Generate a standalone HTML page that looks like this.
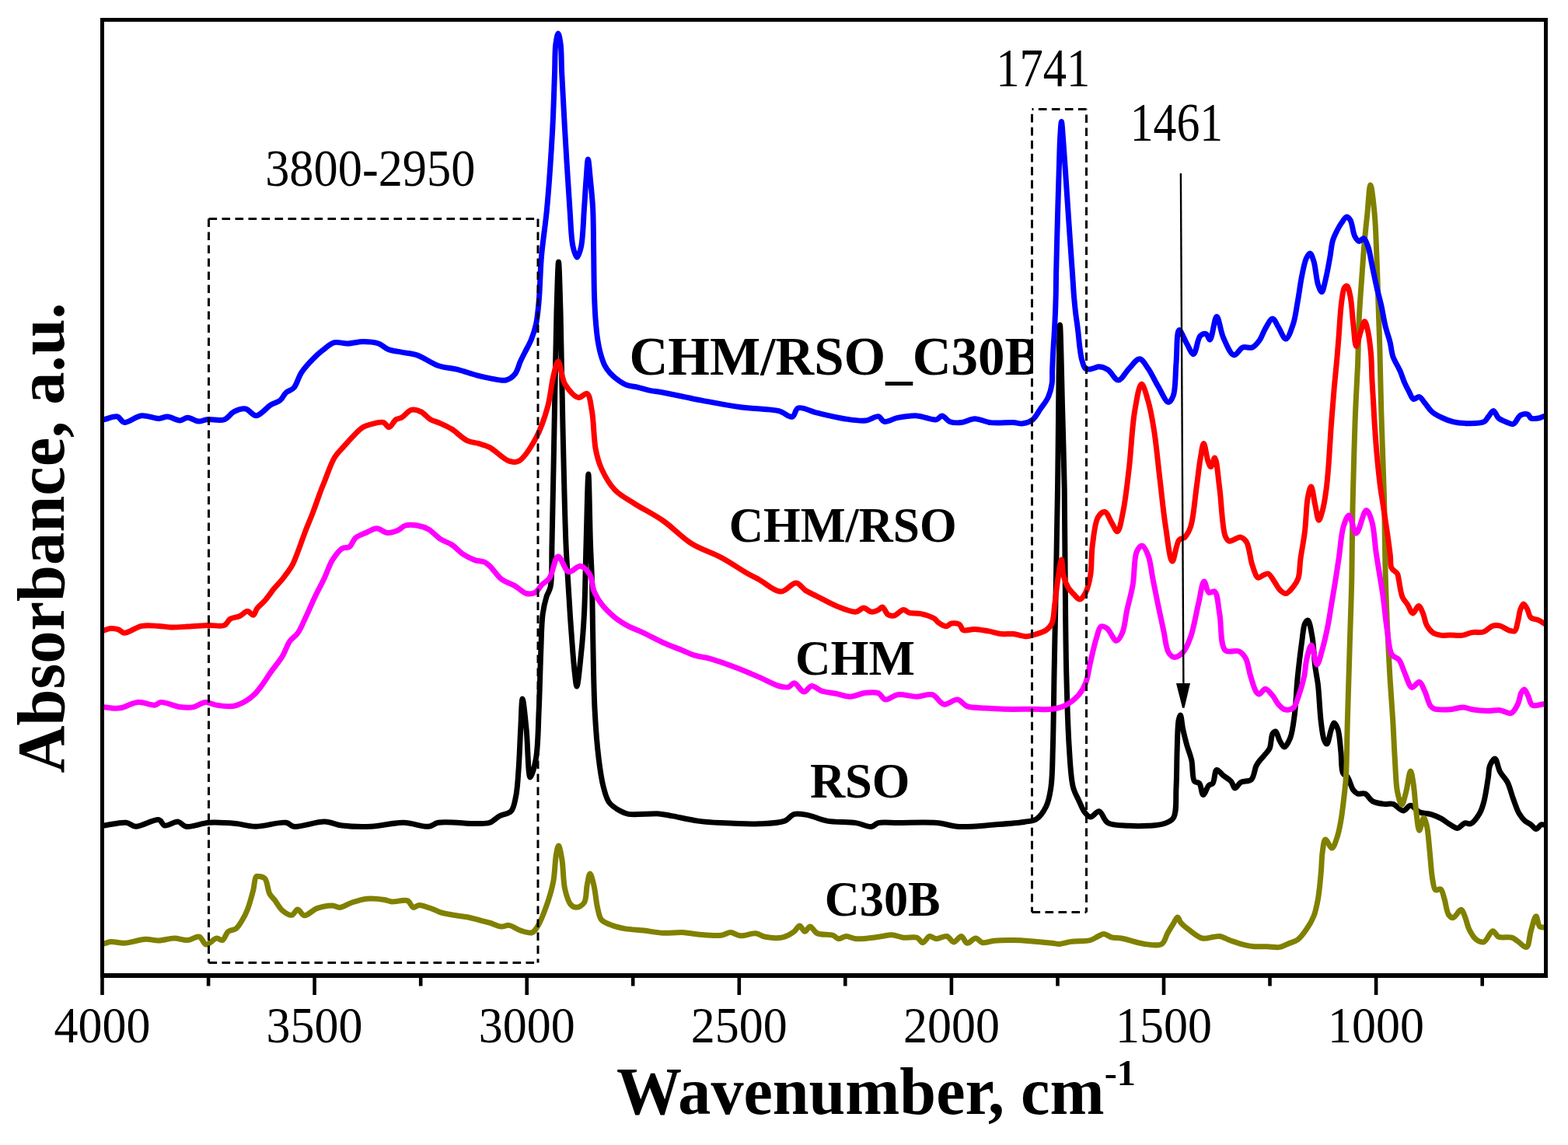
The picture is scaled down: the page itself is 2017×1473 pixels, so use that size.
<!DOCTYPE html>
<html><head><meta charset="utf-8"><title>FTIR spectra</title>
<style>html,body{margin:0;padding:0;background:#fff;}svg{display:block;}</style>
</head><body>
<svg width="2017" height="1473" viewBox="0 0 2017 1473">
<rect x="0" y="0" width="2017" height="1473" fill="#fff"/>
<g fill="none" stroke-width="7" stroke-linejoin="round" stroke-linecap="round">
<path stroke="#000000" d="M134.0,1062.0C143.4,1060.8 154.8,1057.4 162.2,1058.3C167.3,1058.9 169.5,1063.0 174.6,1063.3C182.3,1063.7 198.1,1053.0 204.4,1054.6C208.1,1055.5 208.5,1061.1 211.8,1062.0C216.1,1063.1 224.3,1056.4 229.2,1057.1C233.1,1057.7 234.7,1062.4 239.1,1063.3C246.2,1064.7 258.5,1059.0 268.8,1058.3C279.9,1057.6 292.9,1058.6 303.5,1059.6C312.5,1060.4 319.1,1063.2 328.3,1063.3C340.0,1063.4 359.3,1056.8 368.0,1058.3C372.6,1059.1 373.3,1062.6 377.9,1063.3C386.6,1064.7 406.3,1056.8 417.6,1057.1C426.1,1057.4 431.5,1060.9 439.9,1062.0C450.7,1063.4 464.3,1063.8 477.1,1063.3C490.7,1062.7 506.1,1058.1 519.2,1058.3C530.7,1058.5 543.3,1064.2 551.4,1063.3C556.6,1062.7 558.1,1059.3 563.8,1058.3C574.7,1056.3 601.3,1059.9 613.4,1059.6C620.4,1059.4 625.1,1060.0 630.0,1058.3C634.7,1056.7 637.9,1052.3 642.4,1049.9C647.0,1047.4 653.8,1047.5 657.3,1043.7C661.2,1039.6 661.9,1032.5 663.5,1025.1C665.7,1014.9 666.2,1001.2 667.2,987.9C668.3,972.6 668.8,953.9 669.7,938.3C670.5,924.4 670.9,899.0 672.1,899.0C673.3,899.0 675.6,923.7 677.1,938.3C679.0,956.5 679.1,999.7 682.1,1000.0C684.0,1000.2 687.7,985.7 689.5,975.5C692.3,959.7 692.2,935.1 693.2,913.5C694.3,889.9 694.8,861.5 695.7,839.2C696.5,821.0 696.4,802.8 698.2,789.6C699.4,780.6 701.2,773.6 703.1,767.3C704.6,762.5 706.9,760.7 708.1,754.9C710.6,743.2 709.4,722.8 710.0,700.0C711.0,662.3 712.0,600.0 713.0,550.0C714.0,500.0 714.8,439.3 716.0,400.0C716.8,374.5 717.7,337.0 718.5,337.0C719.3,337.0 720.2,374.5 721.0,400.0C722.2,439.3 722.8,500.0 724.0,550.0C725.2,600.0 726.5,664.6 728.0,700.0C728.8,719.4 729.6,729.1 730.5,745.0C731.6,762.9 732.7,782.6 734.1,802.0C735.6,822.2 737.4,849.3 739.1,864.0C740.1,872.2 740.9,883.0 742.0,883.0C743.6,883.0 746.1,854.3 747.7,839.2C749.4,823.2 750.5,808.6 751.5,789.6C752.8,764.1 753.1,729.9 754.0,700.0C754.9,670.0 756.0,610.0 756.9,610.0C757.8,610.0 758.6,675.1 759.5,700.0C760.1,717.6 760.9,728.4 761.4,745.0C762.0,765.6 762.1,789.2 762.6,814.4C763.2,844.5 763.6,884.3 765.1,913.5C766.3,936.6 767.9,957.5 770.1,975.5C771.8,989.5 773.5,1002.3 776.3,1012.7C778.4,1020.4 779.8,1027.3 783.7,1032.5C787.4,1037.4 794.0,1041.2 798.6,1043.7C802.1,1045.6 804.0,1046.6 808.5,1047.4C817.2,1048.9 837.6,1046.1 848.1,1046.9C855.1,1047.5 858.8,1048.7 865.5,1049.9C874.6,1051.6 887.1,1054.6 897.7,1056.1C907.8,1057.5 916.3,1058.0 927.5,1058.6C941.9,1059.4 962.3,1060.5 977.0,1059.8C988.9,1059.3 1001.3,1059.1 1009.3,1056.1C1014.7,1054.0 1017.0,1048.7 1021.7,1047.4C1026.8,1046.0 1032.8,1047.5 1039.0,1048.6C1046.6,1050.0 1054.6,1054.4 1063.8,1056.1C1074.8,1058.1 1090.6,1057.0 1101.0,1058.6C1108.7,1059.8 1115.5,1064.2 1120.8,1063.5C1124.6,1063.0 1126.0,1059.6 1130.0,1058.6C1136.1,1057.1 1145.1,1058.5 1154.8,1058.5C1168.5,1058.5 1190.0,1057.3 1204.4,1058.5C1215.6,1059.4 1223.2,1062.9 1234.1,1063.5C1247.4,1064.2 1264.3,1062.1 1278.7,1061.0C1292.3,1060.0 1308.4,1059.0 1318.4,1057.3C1324.6,1056.2 1329.0,1056.4 1333.3,1053.6C1338.3,1050.3 1342.6,1043.8 1345.7,1037.5C1349.1,1030.4 1350.5,1022.5 1351.9,1012.7C1353.9,999.1 1353.7,982.5 1354.3,963.1C1355.2,935.7 1355.5,897.0 1356.1,863.9C1356.7,830.9 1357.4,800.5 1358.1,764.8C1358.9,722.9 1359.7,678.5 1360.5,628.0C1361.5,565.5 1362.2,418.0 1363.5,418.0C1364.4,418.0 1365.7,492.8 1366.7,528.7C1367.6,562.7 1368.6,593.5 1369.2,627.9C1369.8,665.3 1369.8,705.8 1370.2,745.0C1370.6,784.5 1370.8,826.1 1371.7,863.9C1372.6,898.5 1373.5,935.7 1375.4,963.1C1376.7,982.5 1377.3,1000.6 1380.4,1012.7C1382.3,1020.1 1385.3,1024.5 1387.8,1030.0C1390.2,1035.2 1392.3,1041.2 1395.2,1044.9C1397.4,1047.7 1399.9,1051.0 1402.7,1051.1C1406.0,1051.3 1410.3,1043.1 1413.8,1043.7C1417.9,1044.4 1419.6,1055.3 1425.0,1058.5C1431.6,1062.4 1443.4,1061.7 1452.3,1062.3C1460.7,1062.9 1469.2,1062.8 1477.0,1062.3C1484.0,1061.9 1491.2,1061.8 1496.9,1059.8C1501.7,1058.1 1506.4,1056.9 1509.3,1052.4C1514.1,1044.9 1512.2,1026.7 1513.0,1012.7C1513.9,997.1 1513.6,978.4 1514.2,963.1C1514.7,949.8 1514.7,932.9 1516.2,925.9C1516.8,923.0 1517.7,919.9 1518.4,920.0C1519.6,920.1 1520.4,932.1 1521.7,938.3C1523.1,944.8 1524.8,951.5 1526.6,958.1C1528.5,964.8 1531.2,970.8 1532.8,978.0C1534.6,986.3 1533.3,1001.1 1536.5,1005.2C1538.1,1007.2 1541.0,1005.9 1542.7,1007.7C1545.3,1010.4 1545.6,1022.4 1547.7,1022.6C1549.7,1022.8 1552.5,1012.6 1555.1,1010.2C1556.7,1008.7 1558.7,1009.4 1560.1,1007.7C1562.6,1004.7 1562.3,991.2 1565.1,990.4C1567.3,989.7 1570.7,995.4 1573.7,997.8C1576.8,1000.3 1581.1,1002.3 1583.6,1005.2C1585.9,1007.8 1586.6,1013.6 1588.6,1013.9C1590.7,1014.2 1592.9,1008.3 1596.0,1006.5C1599.7,1004.4 1606.4,1005.8 1609.7,1002.8C1613.4,999.3 1613.8,989.7 1615.9,985.4C1617.3,982.6 1618.3,981.2 1620.0,979.0C1622.1,976.2 1625.3,973.1 1627.6,970.3C1629.7,967.7 1631.7,966.1 1633.2,962.8C1635.3,958.1 1634.9,947.3 1637.0,943.9C1638.1,942.2 1639.6,940.7 1640.8,941.0C1642.8,941.5 1644.3,949.8 1646.4,953.3C1648.1,956.2 1650.1,961.0 1652.1,960.9C1654.5,960.8 1657.6,954.5 1659.6,949.6C1662.6,942.2 1663.8,930.6 1665.3,919.3C1667.2,905.4 1667.5,887.9 1669.1,872.2C1670.7,856.5 1672.9,837.9 1674.7,825.0C1676.0,816.0 1676.4,806.7 1678.5,802.3C1679.6,800.1 1681.1,797.7 1682.3,798.0C1684.6,798.5 1686.5,811.1 1688.0,819.3C1689.9,830.0 1690.3,845.8 1691.7,857.0C1692.8,866.1 1694.4,872.1 1695.5,881.6C1697.0,894.8 1697.7,916.0 1699.3,928.8C1700.4,937.7 1701.2,946.5 1703.1,951.4C1704.1,954.1 1705.6,957.3 1706.8,957.1C1708.8,956.8 1710.6,943.2 1712.5,938.2C1713.8,934.8 1714.9,930.1 1716.3,930.0C1717.7,929.9 1719.7,934.5 1721.0,938.2C1723.2,944.7 1723.7,957.0 1724.8,966.5C1725.9,975.9 1724.8,989.7 1727.6,994.9C1729.0,997.5 1731.5,997.1 1733.3,999.4C1736.1,1003.1 1738.0,1012.7 1740.8,1016.4C1742.6,1018.7 1744.2,1020.3 1746.5,1021.1C1749.1,1022.0 1753.0,1019.9 1755.9,1021.1C1759.4,1022.5 1761.5,1028.4 1765.4,1030.6C1769.6,1033.0 1775.8,1033.8 1780.5,1034.4C1784.5,1034.9 1788.0,1033.3 1791.8,1034.4C1796.2,1035.7 1801.0,1043.0 1805.0,1042.9C1808.4,1042.8 1811.2,1036.2 1814.5,1036.3C1818.1,1036.4 1821.5,1042.8 1825.8,1044.7C1830.3,1046.7 1836.1,1046.1 1840.9,1047.6C1845.5,1049.0 1850.0,1051.0 1854.1,1053.2C1858.1,1055.4 1861.7,1058.7 1865.4,1060.8C1868.6,1062.7 1871.8,1065.7 1874.9,1065.5C1878.1,1065.3 1881.2,1059.7 1884.3,1058.9C1886.8,1058.3 1889.3,1060.8 1891.8,1059.8C1895.6,1058.3 1900.3,1051.4 1903.2,1046.6C1905.9,1042.0 1907.2,1037.6 1908.8,1031.5C1911.1,1022.9 1913.2,1007.9 1914.5,999.4C1915.4,993.8 1914.8,989.4 1916.4,985.4C1917.8,981.8 1921.0,975.8 1923.0,976.0C1925.5,976.3 1926.8,987.8 1929.6,992.9C1932.2,997.7 1936.3,1000.9 1939.0,1006.0C1942.2,1012.2 1944.0,1020.8 1946.6,1027.8C1949.0,1034.3 1951.2,1041.6 1954.1,1046.6C1956.4,1050.5 1958.9,1053.7 1961.7,1056.1C1964.1,1058.2 1966.9,1059.1 1969.3,1060.8C1971.7,1062.5 1973.7,1066.5 1975.9,1066.5C1978.1,1066.5 1980.5,1061.5 1982.5,1060.8C1983.8,1060.4 1984.8,1060.9 1986.0,1061.0"/>
<path stroke="#808000" d="M134.0,1214.0C136.8,1213.2 139.1,1211.8 142.4,1211.5C147.1,1211.1 153.3,1213.5 159.7,1213.3C167.8,1213.0 178.9,1208.6 187.0,1208.3C193.4,1208.0 198.4,1210.2 204.4,1210.0C210.8,1209.8 217.8,1207.0 224.2,1207.0C230.2,1207.0 236.0,1209.9 241.5,1209.5C246.7,1209.1 252.4,1203.9 256.4,1205.1C260.1,1206.2 261.6,1214.4 265.1,1215.0C268.9,1215.6 274.8,1207.4 278.7,1207.0C281.5,1206.7 284.0,1210.3 286.2,1209.5C289.1,1208.5 290.5,1200.9 293.6,1198.4C296.4,1196.2 300.7,1196.8 303.5,1194.7C306.6,1192.4 308.7,1188.5 311.0,1184.7C313.7,1180.4 316.2,1175.6 318.4,1169.9C321.2,1162.8 323.8,1152.7 325.8,1145.1C327.4,1138.8 327.3,1129.6 329.6,1127.7C330.6,1126.8 331.9,1127.3 333.3,1127.5C335.4,1127.8 338.7,1128.1 340.7,1130.2C344.0,1133.6 344.3,1145.2 346.9,1150.0C348.7,1153.3 350.8,1154.6 353.1,1157.5C356.1,1161.3 359.0,1167.7 363.0,1171.1C366.6,1174.1 372.0,1177.9 375.4,1177.3C378.4,1176.8 380.2,1170.0 382.8,1169.9C385.6,1169.8 388.0,1177.4 391.5,1177.8C395.9,1178.3 401.8,1170.7 407.6,1168.6C413.7,1166.4 422.0,1164.7 427.5,1164.9C431.4,1165.0 433.8,1167.7 437.4,1167.4C441.9,1167.1 446.9,1163.0 452.3,1161.2C458.4,1159.2 465.3,1156.8 472.1,1156.2C479.3,1155.5 488.5,1156.6 494.4,1157.5C498.4,1158.1 500.4,1159.6 504.3,1160.0C509.8,1160.5 519.5,1156.7 524.2,1158.7C527.8,1160.2 528.9,1166.7 531.6,1167.4C533.9,1168.0 536.0,1164.6 539.0,1164.4C543.5,1164.2 551.5,1167.6 556.4,1169.4C560.2,1170.7 562.5,1172.4 566.3,1173.6C571.2,1175.1 577.8,1176.3 583.6,1177.3C589.4,1178.3 595.5,1178.7 601.0,1179.8C606.2,1180.8 611.0,1182.3 615.9,1183.5C620.7,1184.7 625.3,1185.8 630.0,1187.2C634.9,1188.7 640.4,1191.8 644.9,1192.1C648.5,1192.4 651.2,1189.9 654.8,1190.4C659.3,1191.0 664.6,1195.6 669.7,1197.1C674.5,1198.6 680.7,1201.0 684.5,1199.6C687.8,1198.4 689.5,1194.9 692.0,1190.9C696.2,1184.1 701.0,1170.9 704.4,1161.1C707.5,1151.9 710.0,1143.6 711.8,1133.9C713.8,1123.1 713.9,1107.5 715.5,1099.2C716.4,1094.4 717.4,1088.0 718.5,1088.0C719.9,1088.0 721.8,1099.3 723.0,1106.6C724.7,1116.8 724.3,1133.5 726.7,1143.8C728.5,1151.6 730.7,1159.8 734.1,1163.6C736.2,1166.0 739.0,1167.4 741.6,1167.3C744.7,1167.1 749.2,1164.5 751.5,1161.1C754.7,1156.3 753.8,1145.4 755.2,1138.8C756.3,1133.3 757.5,1124.1 758.9,1124.0C760.4,1123.9 762.4,1132.9 763.9,1138.8C765.9,1146.9 766.8,1160.5 768.8,1168.6C770.3,1174.5 770.6,1179.7 773.8,1183.4C777.1,1187.2 783.6,1189.0 788.7,1190.9C793.5,1192.7 797.9,1193.6 803.5,1194.6C810.7,1195.9 820.0,1196.2 828.3,1197.1C836.6,1198.1 844.8,1199.9 853.1,1200.3C861.4,1200.7 870.1,1199.2 877.9,1199.6C884.9,1199.9 890.4,1201.4 897.7,1202.0C906.6,1202.7 919.8,1204.3 927.5,1203.3C932.6,1202.7 935.8,1199.5 939.9,1199.6C944.0,1199.7 947.6,1203.4 952.3,1203.8C958.1,1204.3 966.3,1200.2 972.1,1200.8C976.8,1201.3 979.7,1204.4 984.5,1205.3C990.8,1206.5 1000.3,1207.3 1006.8,1205.8C1012.4,1204.5 1017.9,1201.2 1021.7,1198.3C1024.7,1196.1 1026.3,1191.0 1028.6,1191.0C1030.9,1191.0 1033.0,1198.2 1035.3,1198.3C1037.5,1198.4 1039.6,1192.0 1042.0,1192.0C1044.9,1192.0 1047.3,1198.9 1051.4,1200.8C1056.5,1203.2 1066.4,1201.6 1071.3,1203.3C1074.5,1204.4 1076.0,1207.4 1078.7,1207.7C1081.7,1208.0 1085.1,1204.6 1088.6,1204.5C1092.5,1204.4 1096.0,1207.3 1101.0,1207.7C1108.6,1208.3 1121.6,1206.3 1130.0,1205.3C1136.5,1204.6 1141.9,1202.6 1147.4,1202.8C1152.6,1203.0 1157.0,1205.6 1162.2,1206.2C1167.7,1206.8 1175.2,1204.6 1179.6,1206.2C1182.9,1207.4 1184.5,1212.7 1187.0,1212.7C1189.8,1212.7 1192.6,1205.1 1195.7,1204.5C1198.4,1203.9 1201.1,1207.5 1204.4,1207.7C1208.4,1207.9 1214.2,1203.6 1218.0,1204.5C1221.5,1205.3 1223.7,1211.8 1226.7,1211.9C1229.9,1212.0 1233.7,1204.2 1236.6,1204.5C1239.4,1204.8 1241.0,1212.7 1244.0,1213.2C1247.2,1213.8 1251.7,1206.9 1255.2,1207.0C1258.3,1207.1 1260.5,1212.0 1263.9,1212.7C1268.0,1213.6 1273.1,1210.7 1278.7,1210.2C1285.9,1209.5 1295.5,1209.4 1303.5,1209.5C1311.1,1209.6 1318.0,1210.1 1325.8,1210.7C1334.4,1211.3 1346.3,1212.5 1353.1,1213.2C1357.2,1213.6 1359.4,1214.5 1363.0,1214.4C1367.5,1214.2 1372.3,1212.2 1377.9,1211.4C1385.1,1210.4 1396.4,1211.3 1402.7,1209.5C1406.9,1208.3 1409.5,1205.9 1412.6,1204.5C1415.2,1203.3 1417.4,1201.5 1420.0,1201.5C1423.1,1201.5 1426.4,1204.9 1430.0,1205.8C1433.8,1206.8 1437.3,1206.1 1442.3,1207.0C1450.1,1208.3 1462.8,1213.3 1472.1,1214.4C1480.0,1215.4 1489.4,1217.4 1494.4,1214.4C1498.6,1211.9 1499.3,1205.2 1501.8,1200.8C1504.2,1196.5 1507.0,1192.1 1509.3,1188.4C1511.2,1185.3 1513.0,1180.0 1514.7,1180.0C1516.3,1180.0 1517.2,1184.8 1519.2,1187.2C1521.7,1190.1 1525.2,1192.9 1529.1,1195.8C1534.0,1199.5 1540.7,1205.6 1546.5,1207.0C1551.4,1208.1 1557.2,1205.8 1561.3,1205.3C1564.2,1205.0 1565.9,1204.1 1568.8,1204.5C1573.0,1205.0 1578.4,1208.4 1583.6,1210.2C1589.1,1212.1 1595.6,1214.4 1601.0,1215.7C1605.4,1216.8 1609.0,1217.3 1613.4,1217.7C1618.5,1218.1 1624.5,1217.6 1630.0,1217.7C1635.5,1217.8 1641.5,1219.3 1646.4,1218.4C1650.6,1217.7 1654.0,1215.3 1657.8,1213.7C1661.6,1212.1 1665.6,1211.5 1669.1,1209.0C1673.3,1206.0 1677.0,1200.7 1680.4,1195.8C1684.0,1190.7 1687.4,1185.1 1689.9,1178.8C1692.6,1171.9 1694.0,1164.5 1695.5,1156.1C1697.3,1146.0 1698.3,1132.8 1699.3,1122.2C1700.2,1112.8 1700.0,1103.3 1701.2,1095.7C1702.1,1089.7 1702.8,1080.5 1705.0,1080.0C1707.0,1079.6 1710.9,1091.3 1713.4,1091.0C1716.0,1090.7 1718.3,1082.1 1720.1,1076.8C1722.2,1070.7 1723.5,1063.6 1724.8,1056.1C1726.4,1047.4 1727.5,1037.3 1728.6,1027.8C1729.7,1018.4 1730.7,1011.0 1731.4,999.4C1732.5,981.1 1732.6,954.0 1733.3,928.8C1734.1,899.6 1735.2,865.9 1736.1,834.4C1737.0,802.9 1738.3,770.3 1738.9,740.0C1739.5,711.9 1739.4,685.4 1739.9,658.8C1740.4,633.2 1741.1,606.7 1741.8,583.3C1742.4,563.0 1742.9,545.5 1743.7,526.6C1744.5,507.7 1745.7,489.3 1746.5,470.0C1747.3,449.7 1747.4,428.0 1748.4,407.7C1749.3,388.3 1751.0,368.0 1752.2,351.0C1753.2,337.2 1753.9,325.9 1755.0,313.3C1756.1,300.7 1757.5,288.1 1758.8,275.5C1760.1,263.0 1761.3,238.0 1762.9,238.0C1764.5,238.0 1766.9,261.7 1768.2,275.5C1769.8,292.4 1770.2,313.3 1771.0,332.2C1771.8,351.1 1772.3,369.9 1772.9,388.8C1773.5,407.7 1774.2,424.8 1774.8,445.4C1775.5,470.0 1776.0,502.0 1776.7,526.6C1777.3,547.2 1778.0,564.4 1778.6,583.3C1779.2,602.2 1780.0,621.0 1780.5,639.9C1781.0,658.8 1781.1,678.1 1781.4,696.5C1781.7,714.1 1781.9,731.1 1782.4,748.0C1782.9,764.4 1783.4,778.6 1784.2,796.6C1785.2,819.0 1786.6,848.8 1788.0,872.2C1789.2,892.4 1790.7,910.4 1791.8,928.8C1792.8,946.3 1793.5,964.2 1794.5,980.0C1795.4,993.7 1795.5,1008.2 1797.5,1018.3C1798.9,1025.2 1801.2,1035.3 1803.1,1035.3C1805.0,1035.3 1807.1,1024.6 1808.8,1018.3C1810.9,1010.5 1812.8,992.0 1814.5,992.0C1815.9,992.0 1817.1,1002.1 1818.2,1008.9C1819.8,1018.9 1820.5,1035.8 1822.0,1046.6C1823.1,1054.8 1824.1,1068.2 1825.8,1068.3C1827.3,1068.4 1829.7,1052.3 1831.4,1052.3C1832.7,1052.3 1834.1,1057.5 1835.2,1061.7C1837.1,1069.1 1837.8,1082.7 1839.0,1093.8C1840.3,1105.9 1841.0,1122.3 1842.8,1131.6C1843.9,1137.2 1844.1,1143.2 1846.5,1144.8C1848.1,1145.9 1851.3,1142.9 1853.1,1143.9C1855.6,1145.3 1856.4,1151.4 1857.9,1156.1C1859.9,1162.1 1860.7,1173.0 1863.5,1176.9C1865.1,1179.1 1867.1,1180.9 1869.2,1180.7C1872.3,1180.4 1877.0,1169.9 1879.6,1170.3C1881.7,1170.6 1882.8,1175.4 1884.3,1178.8C1886.3,1183.4 1887.4,1190.7 1890.0,1195.8C1892.5,1200.7 1895.8,1206.4 1899.4,1209.0C1902.2,1211.0 1905.8,1212.7 1908.8,1211.8C1912.9,1210.5 1916.7,1197.9 1920.2,1197.7C1922.9,1197.6 1924.3,1203.7 1927.7,1205.2C1932.0,1207.1 1940.3,1204.8 1944.7,1206.2C1947.9,1207.2 1949.5,1209.1 1952.3,1210.9C1955.7,1213.1 1960.8,1219.4 1963.6,1218.4C1967.1,1217.1 1967.2,1204.4 1969.3,1197.7C1971.3,1191.2 1973.9,1178.8 1975.9,1178.8C1977.6,1178.8 1978.2,1190.0 1980.6,1192.0C1982.1,1193.3 1984.2,1192.7 1986.0,1193.0"/>
<path stroke="#ff00ff" d="M134.0,909.6C136.8,910.0 139.3,910.6 142.4,910.8C146.1,911.1 150.1,911.6 154.8,910.8C161.2,909.8 169.6,904.0 177.1,903.4C184.5,902.8 194.1,907.9 199.4,907.1C202.6,906.6 203.5,903.8 206.8,903.4C212.6,902.8 224.0,908.7 231.6,909.6C237.9,910.4 243.5,910.7 249.0,909.6C254.3,908.5 258.9,903.8 263.9,903.4C268.8,903.0 273.2,906.3 278.7,907.1C285.3,908.1 294.4,909.4 301.0,908.3C306.6,907.3 311.3,904.8 315.9,902.1C320.4,899.4 324.6,895.9 328.3,892.2C332.0,888.5 335.0,884.2 338.2,879.8C341.6,875.2 344.4,870.3 348.1,865.0C352.5,858.7 358.8,851.5 363.0,844.6C367.0,838.1 369.1,830.0 372.9,824.7C375.9,820.5 379.8,819.0 382.8,814.8C386.6,809.6 389.4,802.2 392.8,795.0C396.8,786.7 401.0,776.5 405.2,767.7C409.3,759.2 413.8,751.0 417.6,742.9C421.2,735.3 423.5,727.0 427.5,720.6C431.1,714.9 435.5,708.4 439.9,705.7C443.1,703.7 447.0,705.2 449.8,703.3C453.0,701.1 453.8,695.1 457.2,692.1C461.0,688.7 467.3,686.8 472.1,684.7C476.4,682.8 480.3,679.7 484.5,679.7C488.9,679.7 493.5,685.0 498.1,685.4C502.6,685.8 507.7,683.9 511.8,682.2C515.5,680.7 517.9,677.1 521.7,676.0C526.0,674.8 531.6,675.2 536.5,676.0C541.5,676.8 546.7,678.4 551.4,681.0C556.7,683.9 561.1,690.0 566.3,693.4C571.1,696.5 576.4,697.7 581.2,700.8C586.3,704.2 590.9,709.8 596.0,713.2C600.8,716.3 606.1,718.9 610.9,720.6C615.1,722.0 619.9,721.6 623.3,723.1C626.0,724.3 627.5,725.8 630.0,728.1C634.2,731.9 639.3,740.7 644.9,745.0C650.1,749.0 656.7,750.4 662.2,753.6C667.5,756.6 672.3,762.3 677.1,763.5C680.9,764.4 685.1,764.0 688.3,762.3C691.8,760.5 693.8,755.5 696.9,752.4C700.0,749.3 703.8,747.9 706.8,743.7C711.3,737.4 713.6,716.5 718.0,716.0C722.0,715.6 726.3,734.3 731.6,735.7C736.0,736.8 742.0,727.7 746.5,728.3C751.1,728.9 756.0,734.6 758.9,739.4C762.1,744.8 761.4,753.4 763.9,759.8C766.4,766.0 769.6,771.7 773.8,777.2C778.5,783.3 785.1,789.6 791.1,794.5C796.7,799.0 802.4,802.4 808.5,805.7C814.8,809.1 821.4,811.1 828.3,814.4C836.1,818.1 844.8,823.1 853.1,826.8C861.3,830.5 870.7,833.8 877.9,836.7C883.5,839.0 887.2,841.2 892.8,842.9C899.4,845.0 907.1,845.5 915.1,847.8C924.9,850.6 936.8,855.0 947.3,859.0C957.5,862.9 967.6,867.3 977.0,871.4C985.7,875.1 994.8,880.6 1001.8,882.5C1006.5,883.8 1010.7,884.7 1014.2,883.8C1017.2,883.1 1019.0,878.6 1021.7,878.8C1025.4,879.1 1030.1,889.8 1034.1,890.0C1037.5,890.1 1040.4,882.8 1044.0,882.5C1047.8,882.1 1051.7,887.1 1056.4,888.7C1062.1,890.6 1069.8,891.2 1076.2,892.5C1082.2,893.7 1087.6,896.3 1093.6,896.2C1100.0,896.1 1107.0,891.9 1113.4,891.2C1119.1,890.6 1125.6,889.9 1130.0,891.7C1133.7,893.2 1135.1,899.2 1138.7,899.9C1143.0,900.8 1148.7,894.5 1154.8,893.7C1162.1,892.7 1171.8,896.3 1179.6,896.2C1186.6,896.1 1193.6,892.0 1199.4,893.7C1205.1,895.4 1208.8,905.1 1214.3,906.1C1219.6,907.0 1226.5,899.2 1231.6,899.9C1236.3,900.5 1238.9,906.7 1244.0,908.6C1250.6,911.0 1260.7,910.4 1268.8,911.0C1276.4,911.6 1282.7,912.1 1291.1,912.3C1301.9,912.6 1317.2,912.3 1328.3,912.3C1337.4,912.3 1345.6,913.4 1353.1,912.3C1359.5,911.4 1365.0,910.1 1370.5,907.3C1376.6,904.2 1383.4,898.8 1387.8,893.7C1391.7,889.2 1394.2,884.7 1396.5,878.8C1399.5,871.3 1400.5,860.9 1402.7,851.6C1405.0,841.9 1407.5,830.1 1410.1,821.8C1412.1,815.6 1413.3,807.5 1416.3,806.0C1418.4,805.0 1421.3,806.5 1423.8,808.2C1427.9,811.0 1432.5,824.3 1436.1,824.3C1438.9,824.3 1441.6,818.9 1443.6,814.4C1446.8,807.4 1447.6,794.7 1449.8,784.6C1452.1,774.1 1455.2,763.9 1457.2,752.4C1459.5,739.2 1458.5,717.9 1462.2,709.7C1464.0,705.7 1466.9,701.8 1469.1,702.0C1471.8,702.2 1474.9,709.3 1477.0,714.7C1480.1,722.4 1481.0,734.7 1483.0,745.0C1485.1,755.6 1487.2,766.3 1489.5,777.2C1491.9,788.6 1494.5,801.0 1496.9,811.9C1499.0,821.6 1499.7,833.6 1503.1,839.2C1505.1,842.5 1507.7,845.1 1510.5,845.4C1513.8,845.7 1518.5,842.5 1521.7,839.2C1525.9,834.8 1528.7,827.4 1531.6,819.3C1535.7,808.1 1538.4,789.9 1541.5,777.2C1544.1,766.6 1546.2,748.2 1548.9,748.0C1550.8,747.8 1552.1,760.7 1555.1,762.3C1557.2,763.4 1560.6,759.7 1562.6,761.1C1566.5,763.8 1566.8,778.9 1568.8,789.6C1571.4,803.3 1569.3,830.4 1576.2,836.7C1580.4,840.5 1589.1,835.8 1593.6,837.9C1597.4,839.6 1599.9,842.6 1602.2,846.6C1605.4,852.0 1606.1,861.6 1608.4,868.9C1610.7,876.1 1613.1,886.4 1615.9,890.0C1617.2,891.7 1618.5,893.0 1620.0,892.9C1622.2,892.8 1624.9,886.3 1627.6,886.3C1630.6,886.3 1634.2,891.6 1637.0,894.8C1639.9,898.1 1641.8,903.0 1644.5,906.1C1646.9,908.8 1649.1,911.8 1652.1,912.7C1655.3,913.6 1660.4,913.2 1663.4,910.9C1667.0,908.1 1668.4,901.0 1670.6,895.0C1673.2,887.8 1675.8,878.5 1677.6,870.3C1679.3,862.4 1679.3,853.9 1681.1,846.8C1682.6,840.7 1685.0,829.9 1687.0,830.0C1689.4,830.1 1691.6,854.9 1694.1,855.0C1696.3,855.1 1698.9,842.4 1701.1,835.0C1703.7,826.0 1706.2,814.5 1708.2,804.5C1710.1,794.9 1711.3,785.7 1712.9,776.3C1714.5,766.9 1716.1,757.7 1717.6,748.1C1719.2,738.1 1720.7,728.4 1722.3,717.5C1724.2,705.1 1725.1,687.5 1728.1,677.6C1730.0,671.3 1732.8,662.9 1735.2,663.0C1738.2,663.1 1741.2,686.0 1744.6,686.0C1748.5,686.0 1753.7,656.6 1757.5,656.5C1760.1,656.4 1762.7,664.4 1764.6,670.5C1767.8,680.6 1768.2,698.0 1770.4,712.8C1772.8,729.2 1776.3,747.7 1778.7,764.5C1781.0,780.5 1782.3,797.5 1784.5,811.5C1786.3,822.8 1786.5,835.9 1790.4,842.1C1792.8,845.9 1797.2,845.8 1799.8,849.1C1803.0,853.2 1804.3,860.0 1806.9,865.6C1809.7,871.7 1812.6,883.5 1816.3,884.4C1819.1,885.1 1823.0,876.8 1825.7,877.3C1828.6,877.9 1830.5,884.6 1832.7,889.1C1835.4,894.6 1837.3,904.3 1840.0,908.0C1841.5,910.0 1842.4,910.9 1844.7,911.8C1849.0,913.4 1858.9,913.1 1865.4,912.7C1871.4,912.3 1877.3,909.7 1882.4,909.9C1886.6,910.1 1889.3,912.0 1893.7,912.7C1899.6,913.7 1908.1,914.5 1914.5,914.6C1919.9,914.7 1924.7,913.2 1929.6,913.7C1934.4,914.2 1940.0,918.8 1943.8,917.5C1947.5,916.2 1950.1,910.4 1952.3,906.1C1954.6,901.6 1955.1,894.3 1957.0,891.0C1958.1,889.1 1959.6,886.9 1960.8,887.0C1962.4,887.2 1963.9,891.9 1965.5,894.8C1967.4,898.4 1967.8,905.2 1971.1,907.1C1974.5,909.1 1981.0,906.2 1986.0,905.8"/>
<path stroke="#ff0000" d="M134.0,811.0C136.8,810.2 139.5,808.8 142.4,808.6C145.5,808.4 149.3,808.9 152.3,809.9C155.1,810.9 156.5,814.0 159.7,814.3C165.1,814.7 174.4,806.9 182.0,805.4C189.3,804.0 197.7,805.1 204.4,805.4C209.9,805.7 213.8,806.7 219.2,806.9C225.9,807.1 233.7,806.5 241.5,806.1C250.1,805.7 260.4,804.7 268.8,804.4C276.0,804.2 284.0,806.5 288.7,804.4C292.2,802.8 293.0,798.2 296.1,796.2C299.5,794.1 304.7,794.2 308.5,792.5C312.1,790.9 315.4,786.2 318.4,786.3C321.1,786.3 323.8,791.8 325.8,791.3C328.0,790.8 328.6,785.5 330.8,782.6C333.4,779.2 337.3,776.5 340.7,772.7C344.7,768.1 349.1,761.4 353.1,756.6C356.5,752.5 359.6,749.6 363.0,745.4C367.0,740.3 372.0,734.1 375.4,728.1C378.6,722.5 380.2,717.2 382.8,710.7C386.0,702.7 389.4,692.2 392.8,683.4C396.0,674.9 399.5,667.2 402.7,658.7C406.1,649.9 409.8,638.7 412.6,631.4C414.5,626.4 415.5,624.0 417.6,619.0C420.8,611.2 425.2,597.1 430.0,589.2C433.7,583.1 438.1,579.2 442.3,574.4C446.4,569.7 450.5,564.9 454.7,560.7C458.7,556.7 462.5,552.3 467.1,549.6C471.6,547.0 477.3,545.6 482.0,544.6C485.9,543.7 490.0,542.4 493.2,543.4C496.1,544.3 498.1,549.8 500.6,549.6C503.5,549.4 506.2,541.7 509.3,539.7C511.7,538.1 514.1,538.6 516.7,537.2C520.5,535.1 524.7,528.4 529.1,527.3C533.0,526.3 537.6,527.9 541.5,529.7C545.9,531.7 549.6,537.2 553.9,539.7C557.9,542.0 562.0,542.7 566.3,544.6C571.1,546.7 576.0,548.9 581.2,552.1C587.5,556.0 594.6,563.9 601.0,566.9C606.1,569.3 611.0,569.1 615.9,570.6C620.7,572.0 624.8,572.9 630.0,575.6C637.3,579.4 647.6,590.9 654.8,593.2C659.4,594.7 663.0,595.3 667.2,593.2C674.5,589.6 683.4,574.5 689.5,563.4C696.0,551.5 700.7,537.2 704.4,523.8C708.0,510.7 709.1,494.9 711.8,484.1C713.7,476.5 715.8,465.0 718.0,465.0C720.7,465.0 722.0,486.0 726.7,494.0C731.0,501.2 738.5,510.4 744.0,511.4C747.9,512.1 752.4,505.1 755.2,506.4C759.0,508.2 759.7,519.7 761.4,528.7C763.9,541.9 763.6,564.7 766.3,578.3C768.2,588.1 770.0,594.9 773.8,603.1C778.0,612.3 783.9,622.9 791.1,630.4C798.0,637.7 806.7,641.7 815.9,647.7C826.9,654.8 841.0,661.6 853.1,670.0C865.8,678.8 877.4,691.8 890.3,699.8C902.3,707.2 915.5,710.7 927.5,717.1C939.4,723.4 952.8,732.8 962.0,738.0C968.0,741.4 971.3,742.9 977.0,746.0C984.8,750.2 995.9,761.1 1004.3,761.1C1011.4,761.1 1018.4,749.4 1024.1,749.9C1028.9,750.3 1032.0,756.9 1036.5,759.8C1041.1,762.7 1045.8,764.5 1051.4,767.3C1058.6,770.9 1067.8,776.4 1076.2,779.7C1084.3,782.9 1094.7,787.7 1101.0,787.1C1105.1,786.7 1107.6,782.1 1110.9,782.1C1114.2,782.1 1117.5,786.8 1120.8,787.1C1123.9,787.4 1127.5,785.8 1130.0,784.6C1132.0,783.6 1133.3,780.6 1135.0,780.9C1137.4,781.3 1139.5,789.0 1142.4,790.8C1144.6,792.2 1147.1,792.6 1149.8,792.1C1153.5,791.4 1158.5,784.8 1162.2,784.6C1165.0,784.5 1166.7,787.5 1169.7,788.3C1173.7,789.4 1179.4,788.5 1184.5,789.6C1190.1,790.8 1198.0,793.4 1201.9,795.8C1204.3,797.3 1204.7,799.2 1206.8,800.7C1209.4,802.6 1213.7,805.7 1216.8,805.7C1219.5,805.7 1221.5,802.5 1224.2,802.0C1227.2,801.5 1231.6,801.7 1234.1,803.2C1236.5,804.7 1236.5,809.3 1239.1,810.6C1242.5,812.2 1248.8,809.2 1253.9,809.4C1259.5,809.6 1265.5,810.9 1271.3,811.9C1277.1,812.9 1283.1,815.0 1288.7,815.6C1293.8,816.1 1298.4,815.1 1303.5,815.6C1309.1,816.1 1315.6,819.0 1320.9,818.8C1325.4,818.6 1329.2,816.9 1333.3,815.6C1337.5,814.2 1342.3,813.0 1345.7,810.6C1348.8,808.4 1351.3,806.0 1353.1,802.0C1355.8,796.1 1355.6,785.9 1356.8,777.2C1358.1,767.7 1359.0,757.1 1360.5,747.4C1361.9,738.1 1364.2,720.0 1365.5,720.0C1366.6,720.0 1366.4,733.8 1368.0,740.0C1369.4,745.8 1371.6,751.7 1374.2,756.1C1376.3,759.7 1379.0,762.2 1381.6,764.8C1384.0,767.2 1386.6,771.2 1389.0,771.0C1391.6,770.8 1394.4,766.2 1396.5,762.3C1399.4,756.8 1401.3,748.5 1402.7,740.0C1404.5,729.2 1403.6,714.8 1405.2,702.3C1406.9,689.8 1408.2,672.1 1412.6,665.1C1414.9,661.3 1418.6,658.0 1421.3,658.5C1424.6,659.1 1427.2,668.1 1430.0,672.5C1432.5,676.5 1435.2,684.0 1437.4,683.7C1440.5,683.2 1442.6,668.0 1444.8,657.6C1447.9,642.8 1450.0,622.7 1452.3,603.1C1455.0,580.2 1456.2,548.7 1459.7,528.7C1462.1,514.8 1465.2,494.2 1468.4,494.0C1471.0,493.8 1474.5,507.8 1477.0,516.3C1480.1,527.0 1482.3,539.5 1484.5,553.5C1487.4,571.5 1489.4,594.8 1491.9,615.5C1494.4,636.2 1496.4,658.6 1499.4,677.5C1501.9,693.6 1504.7,721.9 1508.0,722.1C1510.6,722.3 1512.7,699.5 1516.7,694.8C1518.8,692.3 1521.9,693.2 1524.1,691.1C1527.1,688.2 1529.5,683.7 1531.6,677.5C1535.4,666.4 1536.8,643.3 1539.0,627.9C1540.9,614.6 1542.2,601.2 1544.0,590.7C1545.4,582.9 1546.8,570.5 1548.4,570.5C1550.1,570.5 1551.9,587.8 1553.9,593.2C1555.1,596.4 1556.3,600.6 1557.6,600.6C1559.2,600.6 1561.1,588.8 1562.6,589.0C1565.2,589.3 1566.8,613.4 1568.8,627.9C1571.3,646.1 1572.1,680.2 1576.2,689.9C1577.7,693.4 1578.8,695.4 1581.2,696.1C1584.6,697.1 1592.1,690.4 1596.0,691.1C1599.1,691.7 1601.4,694.0 1603.5,697.3C1607.2,703.2 1608.0,718.7 1610.9,727.0C1613.1,733.3 1615.3,742.1 1618.4,743.2C1620.4,743.9 1622.8,740.9 1625.0,740.0C1627.1,739.2 1629.3,737.4 1631.3,738.0C1634.0,738.8 1636.4,744.2 1638.9,747.6C1641.5,751.2 1643.6,756.1 1646.4,758.9C1648.7,761.1 1651.4,763.8 1654.0,763.6C1657.1,763.3 1660.7,758.4 1663.4,755.1C1666.1,751.8 1668.4,748.5 1670.0,743.8C1672.2,737.3 1671.7,728.2 1672.9,719.2C1674.4,708.3 1677.0,695.9 1678.5,683.3C1680.2,669.5 1680.3,650.3 1682.3,639.9C1683.5,633.9 1685.1,625.9 1686.5,626.0C1688.3,626.1 1690.0,641.8 1691.7,649.3C1693.3,656.2 1694.7,669.1 1696.5,669.2C1697.9,669.3 1699.8,661.9 1701.2,656.9C1703.2,649.8 1704.7,639.5 1705.9,630.5C1707.2,621.3 1707.8,613.3 1708.7,602.2C1710.0,586.6 1711.2,563.5 1712.5,545.5C1713.7,529.0 1715.0,512.7 1716.3,498.3C1717.4,486.2 1718.5,475.7 1719.5,465.0C1720.4,455.0 1721.0,446.8 1721.9,436.0C1723.0,422.2 1724.0,401.0 1725.7,388.8C1726.8,381.0 1727.4,372.8 1729.5,369.9C1730.4,368.6 1731.7,367.6 1732.7,368.0C1734.5,368.7 1735.8,375.6 1737.0,381.2C1738.9,390.2 1739.4,405.9 1740.8,417.1C1742.0,427.1 1742.8,445.3 1744.6,445.4C1746.1,445.5 1748.3,432.2 1750.3,426.5C1752.0,421.7 1753.8,413.5 1755.4,413.5C1757.0,413.5 1758.5,421.3 1759.7,426.5C1761.4,434.1 1762.6,444.9 1763.5,454.9C1764.5,466.0 1764.5,479.3 1765.0,490.0C1765.5,499.0 1766.0,506.3 1766.5,515.0C1767.1,524.7 1767.5,534.8 1768.2,545.5C1769.0,557.4 1769.9,570.6 1771.0,583.3C1772.1,596.1 1773.6,610.5 1775.0,622.0C1776.2,631.3 1777.5,638.7 1778.7,647.0C1780.0,655.3 1781.3,663.9 1782.5,672.0C1783.6,679.6 1784.7,686.7 1785.7,694.0C1786.7,701.3 1787.8,709.4 1788.5,716.0C1789.1,721.3 1788.1,726.7 1789.9,730.5C1791.4,733.8 1796.0,735.3 1797.5,738.1C1798.8,740.5 1798.6,742.5 1799.3,745.7C1800.5,751.2 1801.6,762.6 1804.1,768.3C1805.9,772.4 1808.6,774.5 1810.7,777.8C1813.0,781.4 1814.9,788.9 1817.3,789.1C1819.6,789.3 1822.6,779.5 1824.8,779.6C1826.9,779.7 1828.9,785.5 1830.5,789.1C1832.4,793.5 1832.9,799.9 1835.2,804.2C1837.2,807.9 1839.6,811.4 1842.8,813.6C1845.9,815.8 1850.3,816.8 1854.1,817.4C1857.8,817.9 1861.4,817.0 1865.4,817.0C1870.1,817.0 1875.7,818.0 1880.5,817.4C1885.1,816.8 1889.1,814.4 1893.7,813.6C1898.5,812.8 1904.3,814.2 1908.8,812.7C1913.1,811.3 1916.4,806.2 1920.2,805.1C1923.3,804.1 1926.4,804.3 1929.6,805.1C1933.3,806.0 1937.4,809.8 1940.9,810.8C1943.6,811.6 1946.6,812.9 1948.5,811.7C1950.8,810.2 1951.1,804.6 1952.3,800.4C1953.7,795.3 1954.3,787.6 1956.0,783.4C1957.1,780.6 1958.4,777.1 1959.8,777.0C1961.2,776.9 1963.1,780.9 1964.5,783.4C1966.3,786.5 1966.7,792.4 1969.3,794.7C1971.6,796.8 1975.8,796.3 1978.7,797.6C1981.4,798.8 1983.6,800.5 1986.0,802.0"/>
<path stroke="#0000ff" d="M134.0,539.7C139.7,538.5 146.5,534.9 151.0,536.0C154.7,536.9 155.9,542.8 159.7,543.4C165.2,544.3 174.4,535.5 182.0,534.7C189.4,533.9 198.2,538.6 204.4,538.4C208.8,538.3 211.5,535.8 215.5,536.0C220.4,536.2 226.9,541.0 231.6,540.9C235.3,540.8 237.9,537.2 241.5,537.2C245.7,537.2 250.8,541.8 255.2,542.1C259.1,542.4 261.9,540.2 266.3,539.7C272.4,539.0 282.6,541.9 288.7,539.7C293.8,537.9 296.4,532.0 301.0,529.7C305.5,527.5 311.2,525.2 315.9,526.0C320.7,526.8 324.8,534.9 329.6,534.7C335.4,534.5 342.4,524.5 348.1,521.0C352.5,518.3 357.1,517.7 360.5,514.9C363.7,512.3 365.0,507.7 368.0,505.0C370.9,502.4 375.0,502.2 377.9,499.0C381.9,494.6 383.7,485.4 387.8,479.2C392.0,472.9 397.8,466.8 402.7,461.8C406.9,457.5 410.6,454.1 415.1,450.6C419.7,447.0 424.6,442.1 430.0,440.7C435.3,439.3 441.3,442.2 447.3,442.0C453.7,441.8 460.5,439.5 467.1,439.5C473.7,439.5 481.3,440.0 487.0,442.0C491.8,443.7 494.8,447.6 499.4,449.4C504.5,451.4 510.7,451.9 516.7,453.1C523.1,454.4 529.5,454.5 536.5,456.8C545.1,459.7 554.7,467.4 563.8,470.5C572.1,473.3 580.4,473.4 588.6,475.4C596.9,477.5 605.9,480.9 613.4,482.9C619.5,484.5 624.1,485.6 630.0,486.6C636.6,487.7 645.3,490.4 651.0,489.0C655.6,487.9 659.2,485.2 662.2,481.6C665.7,477.4 667.2,469.6 669.7,464.3C671.8,459.8 673.7,456.2 675.9,451.9C678.3,447.2 681.1,442.4 683.3,437.0C685.7,431.0 687.9,424.6 689.5,417.2C691.4,408.4 692.2,399.0 693.2,387.4C694.7,371.4 694.8,349.5 696.5,330.0C698.2,309.7 701.5,291.0 703.6,267.9C706.3,238.7 708.9,199.4 710.6,168.7C712.1,142.2 712.7,114.9 713.5,94.4C714.0,79.9 713.6,66.6 714.8,57.2C715.6,51.3 716.9,43.0 718.0,43.0C719.1,43.0 720.4,51.3 721.2,57.2C722.4,66.6 722.0,79.9 722.7,94.4C723.7,114.9 725.2,142.2 726.7,168.7C728.5,199.4 730.9,240.5 732.9,267.9C734.3,287.3 734.5,306.3 737.1,317.5C738.5,323.6 740.6,331.1 742.3,331.1C744.0,331.1 746.1,323.6 747.5,317.5C750.0,306.3 750.4,283.2 751.5,267.9C752.5,254.6 753.1,242.0 754.0,230.7C754.8,221.3 755.5,205.0 756.4,205.0C757.3,205.0 758.5,221.3 759.4,230.7C760.5,241.9 761.9,254.6 762.6,267.9C763.4,283.2 763.3,300.0 763.6,317.5C763.9,337.1 764.0,363.2 764.5,380.0C764.9,391.3 765.2,399.0 765.9,408.5C766.6,418.0 767.5,428.5 768.8,437.0C769.9,444.0 771.1,450.2 772.8,456.0C774.3,461.2 775.8,466.1 778.0,470.3C779.9,473.9 781.9,476.7 784.7,479.8C788.0,483.4 793.0,487.6 797.0,490.3C800.3,492.5 802.9,494.2 806.5,495.5C810.7,497.0 816.1,497.2 820.8,498.3C825.6,499.4 830.0,501.0 835.0,502.1C840.6,503.3 845.6,503.6 853.1,505.0C865.6,507.3 886.1,512.0 902.7,515.1C919.2,518.2 935.7,521.5 952.3,523.8C968.8,526.1 989.7,525.6 1001.8,528.7C1009.3,530.6 1015.0,537.5 1019.2,536.2C1022.8,535.1 1022.7,526.5 1026.6,525.0C1032.0,522.9 1042.4,529.1 1051.4,531.2C1062.0,533.7 1075.2,537.0 1086.1,538.7C1095.7,540.2 1105.5,542.0 1113.4,541.1C1119.7,540.4 1125.8,534.8 1130.0,535.7C1133.2,536.4 1134.1,541.6 1137.4,542.4C1141.8,543.4 1148.4,538.6 1154.8,537.4C1162.3,536.0 1171.4,534.5 1179.6,534.9C1187.9,535.3 1198.7,541.0 1204.4,539.9C1207.8,539.2 1209.2,534.8 1211.8,534.9C1214.9,535.0 1217.8,540.9 1221.7,542.4C1226.0,544.0 1231.5,544.1 1236.6,543.6C1242.2,543.1 1247.9,538.8 1253.9,538.7C1260.3,538.6 1266.4,542.7 1273.8,543.6C1282.7,544.7 1295.7,543.2 1303.5,543.6C1308.5,543.8 1311.8,545.4 1315.9,544.8C1320.1,544.2 1324.7,542.7 1328.3,539.9C1332.3,536.8 1334.9,531.0 1338.2,526.3C1341.6,521.5 1345.6,516.8 1348.1,511.4C1350.6,506.0 1352.2,499.8 1353.1,494.0C1354.0,488.4 1353.4,483.2 1353.6,477.2C1353.9,470.2 1354.2,462.2 1354.6,454.7C1355.0,447.2 1355.5,440.3 1356.0,432.3C1356.5,423.1 1357.1,411.6 1357.5,402.4C1357.8,394.4 1358.0,387.9 1358.2,380.0C1358.4,371.1 1358.4,363.1 1358.6,351.7C1358.9,334.1 1359.7,306.9 1360.3,284.5C1360.9,262.1 1361.7,236.6 1362.3,217.2C1362.8,202.4 1363.0,189.1 1363.6,178.0C1364.1,169.8 1364.8,156.5 1365.4,156.5C1366.1,156.5 1366.8,169.8 1367.5,178.0C1368.4,189.1 1369.3,202.4 1370.3,217.2C1371.6,236.6 1373.3,262.1 1374.8,284.5C1376.3,306.9 1378.3,334.1 1379.5,351.7C1380.3,363.1 1380.7,371.1 1381.4,380.0C1382.1,387.9 1382.7,394.9 1383.6,402.4C1384.5,409.9 1385.7,417.3 1386.6,424.8C1387.5,432.3 1388.1,440.6 1389.0,447.3C1389.8,452.8 1390.2,457.6 1391.5,462.2C1392.7,466.5 1393.9,472.5 1396.3,474.3C1397.9,475.5 1400.2,475.1 1402.3,474.9C1404.7,474.7 1408.1,473.3 1410.0,472.7C1411.1,472.3 1411.4,471.7 1412.6,471.7C1415.2,471.6 1421.1,473.0 1425.0,475.4C1429.8,478.3 1434.1,489.2 1438.6,489.1C1443.2,489.0 1447.6,478.8 1452.3,474.2C1456.7,469.8 1461.7,461.6 1465.9,461.8C1469.9,462.0 1473.5,469.2 1477.0,474.2C1481.4,480.4 1485.1,489.2 1489.5,496.5C1493.8,503.7 1499.4,517.5 1503.1,517.6C1505.5,517.7 1507.7,513.2 1509.3,508.9C1512.4,500.4 1511.8,480.8 1513.0,466.8C1514.2,452.7 1513.4,425.3 1516.7,424.6C1519.0,424.1 1523.3,436.6 1526.6,442.0C1529.5,446.9 1532.7,455.9 1535.3,455.6C1538.6,455.2 1540.1,435.9 1544.0,432.1C1546.2,430.0 1549.4,428.9 1551.4,429.6C1553.6,430.3 1554.8,437.3 1556.4,437.0C1559.4,436.5 1562.2,407.3 1565.1,407.3C1567.9,407.3 1569.9,426.1 1573.7,434.5C1577.4,442.5 1582.6,456.1 1587.4,456.8C1591.0,457.3 1594.4,448.5 1598.5,446.9C1602.3,445.5 1607.3,448.4 1610.9,446.9C1614.5,445.4 1617.4,441.6 1620.0,438.0C1623.1,433.8 1624.7,427.5 1627.6,422.8C1630.4,418.2 1634.1,410.0 1637.0,410.0C1639.7,410.0 1641.9,416.9 1644.5,420.9C1647.5,425.5 1651.0,436.2 1654.0,436.0C1657.3,435.8 1661.0,424.2 1663.4,417.1C1666.3,408.8 1667.3,398.7 1669.1,388.8C1671.1,378.0 1672.6,364.9 1674.7,354.8C1676.4,346.5 1678.0,337.2 1680.4,332.2C1681.8,329.3 1683.6,325.9 1685.1,326.0C1686.8,326.2 1688.5,331.6 1689.9,335.9C1692.3,343.1 1693.1,359.0 1695.5,366.1C1696.9,370.3 1698.7,375.7 1700.2,375.6C1702.0,375.5 1703.5,366.4 1705.0,360.5C1707.0,352.6 1709.0,341.1 1710.6,332.2C1712.1,324.2 1712.5,315.9 1714.4,309.5C1715.9,304.4 1718.1,300.3 1720.1,296.3C1721.9,292.8 1723.6,289.7 1725.7,286.8C1727.7,284.0 1730.2,279.2 1732.3,279.0C1733.9,278.9 1735.6,280.9 1737.0,283.1C1739.6,287.2 1740.1,299.0 1742.7,303.8C1744.3,306.9 1746.4,310.1 1748.4,310.4C1750.2,310.6 1752.3,306.3 1754.0,306.7C1756.2,307.2 1758.1,312.6 1759.7,317.0C1762.2,323.6 1763.5,334.7 1765.4,343.5C1767.3,352.3 1769.0,361.4 1771.0,369.9C1772.8,377.8 1774.9,384.6 1776.7,392.6C1778.7,401.5 1780.3,412.5 1782.4,420.9C1784.1,427.9 1786.4,433.5 1788.0,439.8C1789.6,446.0 1789.8,452.8 1791.8,458.6C1793.7,464.0 1797.6,470.3 1799.3,473.7C1800.1,475.4 1800.4,475.9 1801.2,477.6C1802.7,481.0 1804.9,488.1 1806.9,492.7C1808.7,496.8 1810.6,500.4 1812.6,504.0C1814.4,507.3 1815.8,512.5 1818.2,513.4C1820.3,514.1 1823.5,510.0 1825.8,510.6C1828.6,511.3 1830.7,516.0 1833.3,519.1C1836.3,522.6 1839.2,527.4 1842.8,530.4C1846.2,533.3 1850.0,535.0 1854.1,537.0C1858.7,539.2 1864.1,541.4 1869.2,542.7C1874.2,543.9 1878.7,544.5 1884.3,544.6C1891.5,544.8 1903.8,545.3 1908.8,542.7C1911.8,541.2 1912.5,538.4 1914.5,536.1C1916.6,533.7 1919.0,528.4 1921.1,528.5C1923.4,528.6 1924.9,535.6 1927.7,538.0C1930.3,540.3 1934.0,541.4 1937.2,542.7C1940.3,543.9 1943.7,546.4 1946.6,545.5C1950.1,544.4 1952.4,536.1 1956.0,534.2C1958.9,532.7 1963.2,532.2 1965.5,533.2C1967.3,534.0 1967.5,537.1 1969.3,538.0C1971.6,539.1 1975.8,538.5 1978.7,538.0C1981.3,537.6 1983.6,536.3 1986.0,535.5"/>
</g>
<g fill="none" stroke="#000" stroke-width="3" stroke-dasharray="10.6 6.4">
<path d="M268.5,281.5 H692"/><path d="M268.5,281.5 V1238.5"/><path d="M268.5,1238.5 H692"/><path d="M692,281.5 V1238.5"/>
<path d="M1397.5,140.4 H1327.5"/><path d="M1327.5,140.4 V1173.5" stroke-dashoffset="10.6"/><path d="M1397.5,140.4 V1173.5" stroke-dashoffset="10"/><path d="M1327.5,1173.5 H1397.5"/>
</g>
<line x1="1518.9" y1="223" x2="1522.4" y2="884" stroke="#000" stroke-width="2.4"/>
<polygon points="1513,879 1531,879 1523.5,910.8 1521,910.8" fill="#000"/>
<g fill="none" stroke="#000">
<path d="M131.5,1255 V25.5 H1988.5 V1255" stroke-width="5"/>
<path d="M129,1255 H1991" stroke-width="6"/>
</g>
<g stroke="#000"><line x1="131.5" y1="1255" x2="131.5" y2="1280" stroke-width="4.6"/><line x1="404.6" y1="1255" x2="404.6" y2="1280" stroke-width="4.6"/><line x1="677.7" y1="1255" x2="677.7" y2="1280" stroke-width="4.6"/><line x1="950.8" y1="1255" x2="950.8" y2="1280" stroke-width="4.6"/><line x1="1223.9" y1="1255" x2="1223.9" y2="1280" stroke-width="4.6"/><line x1="1497.0" y1="1255" x2="1497.0" y2="1280" stroke-width="4.6"/><line x1="1770.1" y1="1255" x2="1770.1" y2="1280" stroke-width="4.6"/><line x1="268.1" y1="1255" x2="268.1" y2="1268.5" stroke-width="4.6"/><line x1="541.2" y1="1255" x2="541.2" y2="1268.5" stroke-width="4.6"/><line x1="814.2" y1="1255" x2="814.2" y2="1268.5" stroke-width="4.6"/><line x1="1087.3" y1="1255" x2="1087.3" y2="1268.5" stroke-width="4.6"/><line x1="1360.5" y1="1255" x2="1360.5" y2="1268.5" stroke-width="4.6"/><line x1="1633.5" y1="1255" x2="1633.5" y2="1268.5" stroke-width="4.6"/><line x1="1906.7" y1="1255" x2="1906.7" y2="1268.5" stroke-width="4.6"/></g>
<g font-family="Liberation Serif, serif" font-size="62" fill="#000"><text transform="translate(131.5,1340.9) scale(1,1.055)" text-anchor="middle">4000</text><text transform="translate(404.6,1340.9) scale(1,1.055)" text-anchor="middle">3500</text><text transform="translate(677.7,1340.9) scale(1,1.055)" text-anchor="middle">3000</text><text transform="translate(950.8,1340.9) scale(1,1.055)" text-anchor="middle">2500</text><text transform="translate(1223.9,1340.9) scale(1,1.055)" text-anchor="middle">2000</text><text transform="translate(1497.0,1340.9) scale(1,1.055)" text-anchor="middle">1500</text><text transform="translate(1770.1,1340.9) scale(1,1.055)" text-anchor="middle">1000</text></g>
<g font-family="Liberation Serif, serif" font-size="62" fill="#000">
<text transform="translate(341.2,239.4) scale(1.0057,1.0975)">3800-2950</text>
<text transform="translate(1281.3,111.2) scale(0.9765,1.115)">1741</text>
<text transform="translate(1453.7,181.1) scale(0.9635,1.115)">1461</text>
</g>
<defs><clipPath id="cl"><rect x="0" y="0" width="1329" height="1473"/></clipPath></defs>
<g font-family="Liberation Serif, serif" font-weight="bold" fill="#000">
<text clip-path="url(#cl)" x="809.5" y="482.3" font-size="69">CHM/RSO<tspan dy="4">_</tspan><tspan dy="-4">C30B</tspan></text>
<text transform="translate(937.7,696.8) scale(0.9736,1)" font-size="63">CHM/RSO</text>
<text transform="translate(1022.9,867.8)" font-size="63">CHM</text>
<text transform="translate(1041.9,1025.9) scale(0.9928,1)" font-size="63">RSO</text>
<text transform="translate(1060.8,1177.6) scale(0.9884,1)" font-size="63">C30B</text>
</g>
<g font-family="Liberation Serif, serif" font-weight="bold" fill="#000">
<text transform="translate(792.9,1433) scale(0.978,1)" font-size="86">Wavenumber, cm</text>
<text transform="translate(1420.7,1395.5) scale(1.05,1)" font-size="46">-1</text>
<text transform="translate(82,994.5) rotate(-90) scale(0.982,1)" font-size="86">Absorbance, a.u.</text>
</g>
</svg>
</body></html>
